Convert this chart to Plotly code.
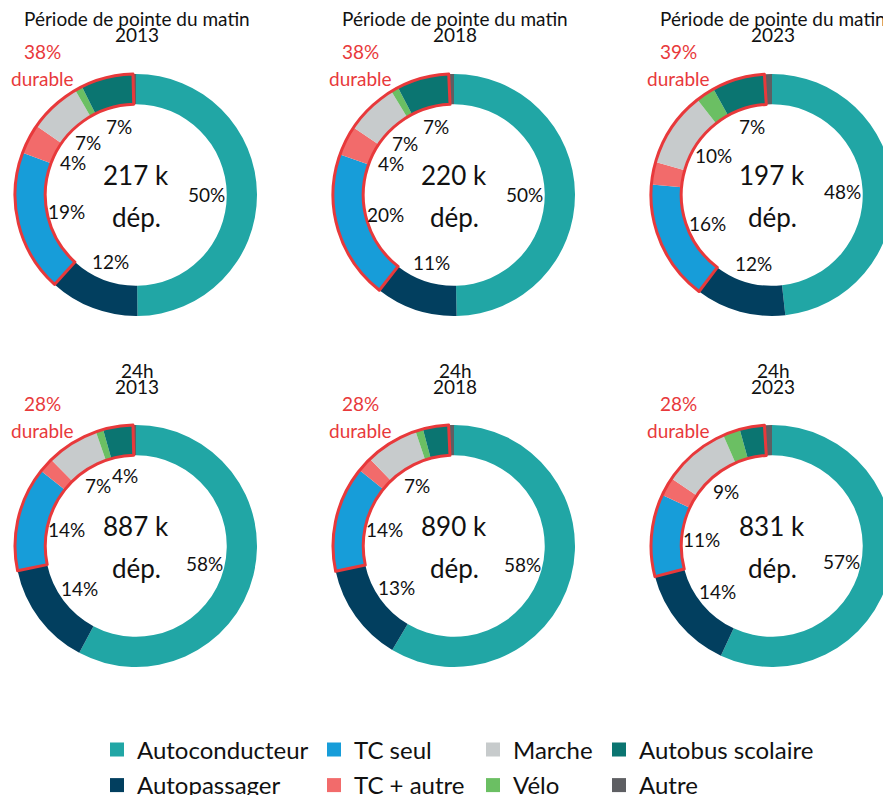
import plotly.graph_objects as go
import math

W, H = 891, 795
OFF = 8  # the page body adds an 8px margin around the figure

modes = ["Autoconducteur", "Autopassager", "TC seul", "TC + autre",
         "Marche", "Vélo", "Autobus scolaire", "Autre"]
colors = ["#21a6a5", "#023f5f", "#179dd9", "#f26b6b",
          "#c7cbcc", "#6bbf63", "#0b7571", "#5e5f63"]
is_durable = [False, False, True, True, True, True, True, False]
RED = "#e8393b"

panel_periods = ["Période de pointe du matin"] * 3 + ["24h"] * 3
panel_years = ["2013", "2018", "2023", "2013", "2018", "2023"]
panel_totals = ["217 k", "220 k", "197 k", "887 k", "890 k", "831 k"]
panel_durable = ["38%", "38%", "39%", "28%", "28%", "28%"]

ppm_2013 = [50, 12, 19, 4, 7, 1, 7, 0.4]
ppm_2018 = [50, 11, 20, 4, 7, 1, 7, 0.7]
ppm_2023 = [48, 12, 16, 3, 10, 2.5, 7, 1]
j24_2013 = [58, 14, 14, 2, 7, 1, 4, 0.4]
j24_2018 = [58, 13, 14, 2, 7, 1, 3.4, 0.7]
j24_2023 = [57, 14, 11, 2.5, 9, 2.3, 3.3, 1]
shares = [ppm_2013, ppm_2018, ppm_2023, j24_2013, j24_2018, j24_2023]

FONT = "Lato"
centers_x = [136, 454, 772]
centers_y = [195, 546]
R = 121
HOLE = 0.75
LABEL_R = 71


def X(px):
    return (px - OFF) / W


def Y(py):
    return 1 - (py - OFF) / H


def text_ann(px, py, text, size, color="#111111"):
    return dict(x=X(px), y=Y(py), xref="paper", yref="paper", text=text,
                showarrow=False, xanchor="center", yanchor="middle",
                font=dict(family=FONT, size=size, color=color))


fig = go.Figure()
ann = []
for i, vals in enumerate(shares):
    cx = centers_x[i % 3]
    cy = centers_y[i // 3]
    dom = dict(x=[max(X(cx - R), 0), min(X(cx + R), 1)], y=[Y(cy + R), Y(cy - R)])
    fig.add_trace(go.Pie(
        values=vals, labels=modes, sort=False, direction="clockwise", rotation=0,
        hole=HOLE, domain=dom, textinfo="none", showlegend=False,
        marker=dict(colors=colors, line=dict(width=0)),
        hovertemplate="%{label}: %{value}%<extra></extra>"))
    auto = vals[0] + vals[1]
    dur = sum(v for v, d in zip(vals, is_durable) if d)
    other = vals[7]
    fig.add_trace(go.Pie(
        values=[auto, dur, other], labels=["_auto", "_durable", "_autre"],
        sort=False, direction="clockwise", rotation=0, hole=HOLE, domain=dom,
        textinfo="none", showlegend=False, hoverinfo="skip",
        marker=dict(colors=["rgba(0,0,0,0)"] * 3,
                    line=dict(color=["rgba(0,0,0,0)", RED, "rgba(0,0,0,0)"],
                              width=[0, 3, 0]))))
    total = sum(vals)
    cum = 0
    for v in vals:
        mid = (cum + v / 2) / total
        cum += v
        if v < 3.5:
            continue
        th = 2 * math.pi * mid
        px = cx + LABEL_R * math.sin(th)
        py = cy - LABEL_R * math.cos(th)
        ann.append(text_ann(px, py, f"{round(v)}%", 19))
    ann.append(text_ann(cx, cy - 20, panel_totals[i], 26))
    ann.append(text_ann(cx, cy + 22, "dép.", 26))
    ann.append(text_ann(cx + 1, cy - 176, panel_periods[i], 19))
    ann.append(text_ann(cx + 1, cy - 160, panel_years[i], 19))
    ann.append(text_ann(cx - 94, cy - 143, panel_durable[i], 19, RED))
    ann.append(text_ann(cx - 94, cy - 116, "durable", 19, RED))

legend_x = [97, 314, 473, 599]
legend_y = [750, 785.5]
layout_legends = {}
for k, (m, c) in enumerate(zip(modes, colors)):
    col, row = k // 2, k % 2
    name = "legend" if k == 0 else f"legend{k + 1}"
    fig.add_trace(go.Scatter(x=[None], y=[None], mode="markers", name=m,
                             marker=dict(symbol="square", size=14, color=c),
                             legend=name, showlegend=True, hoverinfo="skip"))
    layout_legends[name] = dict(x=X(legend_x[col]), y=Y(legend_y[row]),
                                xref="paper", yref="paper",
                                xanchor="left", yanchor="middle",
                                bgcolor="rgba(0,0,0,0)", borderwidth=0,
                                font=dict(family=FONT, size=24, color="#111111"))

fig.update_layout(
    width=W, height=H,
    margin=dict(l=0, r=0, t=0, b=0, autoexpand=False),
    paper_bgcolor="white", plot_bgcolor="white",
    xaxis=dict(visible=False), yaxis=dict(visible=False),
    annotations=ann,
    font=dict(family=FONT),
    **layout_legends,
)
fig.write_html("out.html")
